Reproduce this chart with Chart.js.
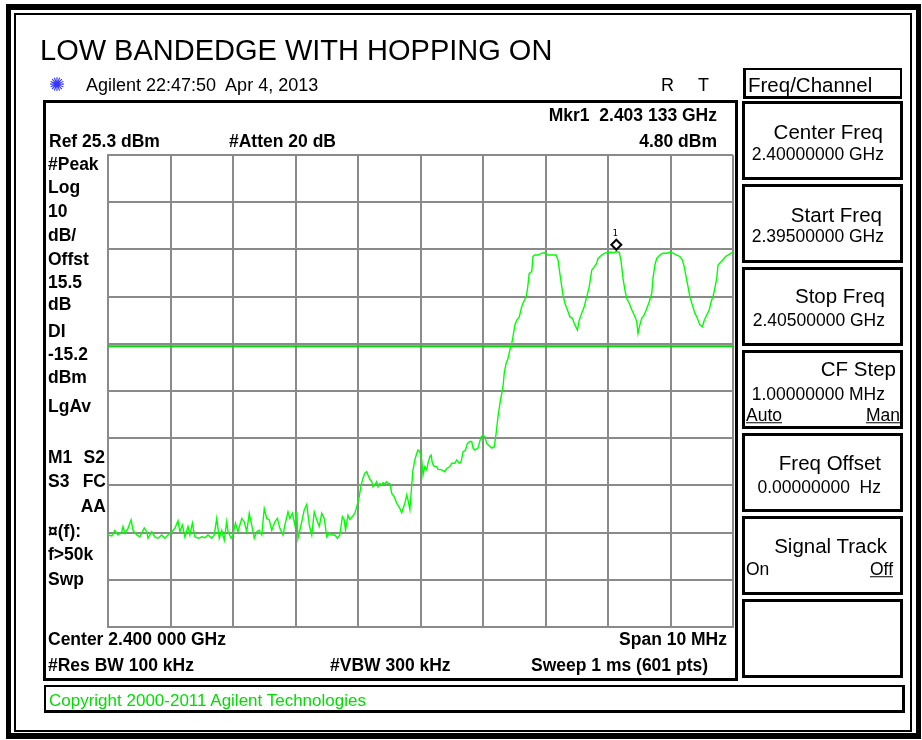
<!DOCTYPE html>
<html>
<head>
<meta charset="utf-8">
<script src="https://cdn.jsdelivr.net/npm/chart.js@4.4.0/dist/chart.umd.min.js"></script>
<style>
  html, body { margin: 0; padding: 0; background: #fff; }
  #page { position: relative; width: 922px; height: 740px; overflow: hidden; font-family: "Liberation Sans", Arial, sans-serif; }
  #page canvas { position: absolute; left: 0; top: 0; }
  .box { position: absolute; box-sizing: border-box; border: 3px solid #000; }
  .t { position: absolute; white-space: pre; line-height: 1; transform: translateY(-50%); color: #000; }
  .title { font-size: 29px; }
  .hdr { font-size: 18px; }
  .logo { font-family: "DejaVu Sans", sans-serif; font-size: 19px; color: #3535ff; }
  .b { font-weight: bold; font-size: 17.5px; }
  .k { font-size: 20.5px; }
  .v { font-size: 17.5px; }
  .u { text-decoration: underline; }
  .copy { font-size: 17px; color: #00dd00; }
</style>
</head>
<body>
<div id="page">
  <canvas id="saChart" width="922" height="740"></canvas>
</div>
<script>
// axis setup
const startFreqMHz = 2395;
const stopFreqMHz = 2405;
const refLevelDbm = 25.3;
const dbPerDiv = 10;
const displayLineDbm = -15.2;
const markerFreqMHz = 2403.133;
const markerLevelDbm = 4.80;

// trace
const traceFreqMHz = [
  2395.00, 2395.06, 2395.11, 2395.16, 2395.22, 2395.24, 2395.27, 2395.32, 2395.37, 2395.40,
  2395.46, 2395.51, 2395.58, 2395.62, 2395.64, 2395.70, 2395.75, 2395.80, 2395.86, 2395.91,
  2395.96, 2396.02, 2396.07, 2396.12, 2396.15, 2396.19, 2396.23, 2396.28, 2396.31, 2396.35,
  2396.39, 2396.45, 2396.50, 2396.55, 2396.60, 2396.66, 2396.70, 2396.74, 2396.78, 2396.82,
  2396.86, 2396.90, 2396.92, 2396.97, 2397.00, 2397.04, 2397.08, 2397.14, 2397.18, 2397.22,
  2397.26, 2397.30, 2397.34, 2397.38, 2397.42, 2397.46, 2397.50, 2397.54, 2397.58, 2397.62,
  2397.67, 2397.71, 2397.75, 2397.80, 2397.83, 2397.88, 2397.91, 2397.95, 2397.99, 2398.02,
  2398.04, 2398.10, 2398.14, 2398.18, 2398.22, 2398.26, 2398.30, 2398.34, 2398.38, 2398.42,
  2398.46, 2398.50, 2398.54, 2398.58, 2398.63, 2398.67, 2398.71, 2398.75, 2398.78, 2398.80,
  2398.84, 2398.87, 2398.91, 2398.95, 2398.98, 2399.02, 2399.05, 2399.08, 2399.11, 2399.14,
  2399.16, 2399.19, 2399.22, 2399.24, 2399.27, 2399.30, 2399.32, 2399.35, 2399.38, 2399.40,
  2399.43, 2399.46, 2399.48, 2399.51, 2399.54, 2399.58, 2399.62, 2399.66, 2399.70, 2399.72,
  2399.75, 2399.78, 2399.80, 2399.83, 2399.86, 2399.88, 2399.91, 2399.94, 2399.96, 2399.99,
  2400.02, 2400.04, 2400.07, 2400.10, 2400.12, 2400.15, 2400.17, 2400.19, 2400.22, 2400.26,
  2400.28, 2400.34, 2400.39, 2400.42, 2400.47, 2400.50, 2400.55, 2400.58, 2400.62, 2400.65,
  2400.68, 2400.72, 2400.75, 2400.79, 2400.82, 2400.84, 2400.87, 2400.92, 2400.94, 2400.97,
  2401.00, 2401.03, 2401.06, 2401.08, 2401.14, 2401.18, 2401.21, 2401.24, 2401.28, 2401.32,
  2401.34, 2401.37, 2401.40, 2401.43, 2401.46, 2401.48, 2401.51, 2401.54, 2401.58, 2401.62,
  2401.64, 2401.69, 2401.71, 2401.74, 2401.78, 2401.80, 2401.83, 2401.88, 2401.94, 2401.99,
  2402.04, 2402.10, 2402.17, 2402.20, 2402.23, 2402.26, 2402.28, 2402.31, 2402.35, 2402.39,
  2402.43, 2402.47, 2402.51, 2402.54, 2402.58, 2402.62, 2402.66, 2402.70, 2402.74, 2402.78,
  2402.82, 2402.84, 2402.90, 2402.95, 2403.00, 2403.06, 2403.08, 2403.13, 2403.18, 2403.21,
  2403.24, 2403.27, 2403.30, 2403.34, 2403.38, 2403.42, 2403.46, 2403.48, 2403.51, 2403.54,
  2403.58, 2403.62, 2403.66, 2403.70, 2403.72, 2403.75, 2403.78, 2403.83, 2403.88, 2403.94,
  2403.99, 2404.04, 2404.10, 2404.15, 2404.19, 2404.22, 2404.25, 2404.28, 2404.31, 2404.35,
  2404.39, 2404.43, 2404.47, 2404.51, 2404.54, 2404.58, 2404.62, 2404.65, 2404.68, 2404.71,
  2404.74, 2404.76, 2404.81, 2404.84, 2404.88, 2404.92, 2404.97, 2405.00
];
const traceLevelDbm = [
  -55.2, -55.4, -54.2, -55.2, -54.5, -53.4, -54.8, -53.8, -52.0, -54.2,
  -55.2, -55.6, -53.7, -54.5, -55.9, -54.5, -55.6, -55.9, -55.2, -55.9,
  -55.2, -54.5, -53.8, -52.2, -54.5, -53.1, -55.6, -53.4, -55.2, -52.7,
  -55.6, -55.9, -55.6, -55.8, -55.2, -55.9, -55.2, -51.7, -55.9, -54.2,
  -56.3, -52.4, -54.5, -55.9, -55.1, -52.7, -54.5, -51.7, -52.4, -54.5,
  -50.6, -53.1, -55.9, -54.5, -54.2, -55.2, -49.6, -51.7, -52.0, -54.2,
  -52.4, -51.7, -53.8, -55.2, -53.1, -50.3, -51.7, -50.6, -53.1, -50.3,
  -55.9, -52.4, -49.9, -48.7, -53.1, -55.2, -50.3, -52.0, -53.4, -50.6,
  -51.7, -55.6, -54.8, -55.2, -55.2, -55.9, -55.2, -51.3, -52.0, -54.2,
  -51.0, -51.9, -51.3, -50.6, -49.2, -47.1, -44.6, -43.2, -42.1, -41.8,
  -42.5, -43.4, -43.9, -45.0, -44.6, -43.9, -45.0, -44.3, -44.6, -44.1,
  -44.4, -43.9, -44.3, -44.3, -46.4, -47.1, -48.5, -49.3, -50.5, -49.6,
  -48.5, -46.7, -47.8, -49.8, -44.6, -41.4, -39.3, -37.9, -37.2, -37.6,
  -39.3, -42.5, -40.7, -41.4, -40.0, -38.6, -38.3, -40.0, -40.7, -40.7,
  -41.3, -41.4, -41.8, -41.1, -40.7, -40.0, -40.0, -39.3, -40.0, -39.7,
  -37.6, -37.2, -35.8, -35.4, -35.4, -36.8, -37.2, -36.8, -35.8, -34.4,
  -34.0, -34.4, -35.8, -36.1, -36.8, -36.5, -33.7, -30.1, -26.6, -23.8,
  -20.9, -18.8, -17.8, -16.0, -14.6, -13.2, -10.7, -9.7, -9.0, -6.8,
  -6.1, -4.7, -3.3, 0.2, 0.6, 3.8, 4.1, 4.1, 4.5, 4.6,
  4.1, 4.1, 4.1, 3.1, 0.2, -2.6, -4.4, -6.1, -7.5, -9.0,
  -9.3, -10.7, -11.8, -9.7, -8.2, -6.8, -4.7, -2.6, 0.9, 1.6,
  2.4, 3.4, 4.1, 4.5, 4.7, 4.7, 4.6, 4.8, 4.7, 2.7,
  -0.8, -3.3, -5.1, -6.1, -7.5, -8.6, -10.0, -12.5, -10.7, -9.3,
  -8.6, -7.2, -5.8, -4.0, -0.8, 2.0, 3.4, 4.1, 4.5, 4.5,
  4.7, 4.5, 4.1, 3.8, 3.1, 1.6, -0.5, -2.6, -4.7, -6.5,
  -8.2, -9.3, -10.7, -11.1, -9.7, -8.6, -7.5, -5.8, -4.7, -2.9,
  -0.8, 2.0, 2.7, 3.1, 3.8, 4.1, 4.5, 4.7
];

const page = document.getElementById('page');

// boxes of the analyzer screen
const boxes = [
  // left, top, width, height, border
  [6, 4, 915, 735, '6px 5px 6px 5px'],
  [14, 13, 898, 719, '2px'],
  [43, 100, 695, 581, '3px'],
  [743, 68, 159, 31, '2px 2px 3px 3px'],
  [742, 101, 161, 79, '3px'],
  [742, 184, 161, 79, '3px'],
  [742, 267, 161, 79, '3px'],
  [742, 350, 161, 79, '3px'],
  [742, 433, 161, 79, '3px'],
  [742, 516, 161, 79, '3px'],
  [742, 599, 161, 79, '3px'],
  [44, 685, 861, 28, '2px 3px 3px 2px']
];
boxes.forEach(([l, t, w, h, bw]) => {
  const d = document.createElement('div');
  d.className = 'box';
  d.style.left = l + 'px';
  d.style.top = t + 'px';
  d.style.width = w + 'px';
  d.style.height = h + 'px';
  d.style.borderWidth = bw;
  page.appendChild(d);
});

// screen texts: text, x, centre y, class, align
const texts = [
  ['LOW BANDEDGE WITH HOPPING ON', 40, 50, 'title', 'l'],
  ['\u273A', 49, 84, 'logo', 'l'],
  ['Agilent 22:47:50  Apr 4, 2013', 86, 85, 'hdr', 'l'],
  ['R', 661, 85, 'hdr', 'l'],
  ['T', 698, 85, 'hdr', 'l'],
  ['Freq/Channel', 748, 85, 'k', 'l'],
  ['Mkr1  2.403 133 GHz', 717, 116, 'b', 'r'],
  ['Ref 25.3 dBm', 49, 142, 'b', 'l'],
  ['#Atten 20 dB', 229, 142, 'b', 'l'],
  ['4.80 dBm', 717, 142, 'b', 'r'],
  ['#Peak', 48, 165, 'b', 'l'],
  ['Log', 48, 188, 'b', 'l'],
  ['10', 48, 212, 'b', 'l'],
  ['dB/', 48, 236, 'b', 'l'],
  ['Offst', 48, 260, 'b', 'l'],
  ['15.5', 48, 283, 'b', 'l'],
  ['dB', 48, 305, 'b', 'l'],
  ['DI', 48, 332, 'b', 'l'],
  ['-15.2', 48, 355, 'b', 'l'],
  ['dBm', 48, 378, 'b', 'l'],
  ['LgAv', 48, 407, 'b', 'l'],
  ['M1', 48, 458, 'b', 'l'],
  ['S2', 105, 458, 'b', 'r'],
  ['S3', 48, 482, 'b', 'l'],
  ['FC', 106, 482, 'b', 'r'],
  ['AA', 106, 507, 'b', 'r'],
  ['\u00A4(f):', 48, 532, 'b', 'l'],
  ['f>50k', 48, 555, 'b', 'l'],
  ['Swp', 48, 580, 'b', 'l'],
  ['Center 2.400 000 GHz', 48, 640, 'b', 'l'],
  ['Span 10 MHz', 727, 640, 'b', 'r'],
  ['#Res BW 100 kHz', 48, 666, 'b', 'l'],
  ['#VBW 300 kHz', 330, 666, 'b', 'l'],
  ['Sweep 1 ms (601 pts)', 531, 666, 'b', 'l'],
  ['Center Freq', 883, 132, 'k', 'r'],
  ['2.40000000 GHz', 884, 155, 'v', 'r'],
  ['Start Freq', 882, 215, 'k', 'r'],
  ['2.39500000 GHz', 884, 237, 'v', 'r'],
  ['Stop Freq', 885, 296, 'k', 'r'],
  ['2.40500000 GHz', 885, 321, 'v', 'r'],
  ['CF Step', 896, 369, 'k', 'r'],
  ['1.00000000 MHz', 885, 395, 'v', 'r'],
  ['Auto', 746, 416, 'v u', 'l'],
  ['Man', 900, 416, 'v u', 'r'],
  ['Freq Offset', 881, 463, 'k', 'r'],
  ['0.00000000  Hz', 881, 488, 'v', 'r'],
  ['Signal Track', 887, 546, 'k', 'r'],
  ['On', 746, 570, 'v', 'l'],
  ['Off', 893, 570, 'v u', 'r'],
  ['Copyright 2000-2011 Agilent Technologies', 49, 700, 'copy', 'l']
];
texts.forEach(([s, x, y, cls, align]) => {
  const d = document.createElement('div');
  d.className = 't ' + cls;
  d.textContent = s;
  d.style.top = y + 'px';
  if (align === 'r') d.style.right = (922 - x) + 'px';
  else d.style.left = x + 'px';
  page.appendChild(d);
});

// marker diamond sits just above the trace point
const markerPlugin = {
  id: 'mkr1',
  afterDatasetsDraw(chart) {
    const { ctx, scales: { x, y } } = chart;
    const px = x.getPixelForValue(markerFreqMHz);
    const py = y.getPixelForValue(markerLevelDbm) - 7;
    ctx.save();
    ctx.beginPath();
    ctx.moveTo(px, py - 5);
    ctx.lineTo(px + 5, py);
    ctx.lineTo(px, py + 5);
    ctx.lineTo(px - 5, py);
    ctx.closePath();
    ctx.fillStyle = '#fff';
    ctx.fill();
    ctx.lineWidth = 2;
    ctx.strokeStyle = '#000';
    ctx.stroke();
    ctx.font = '9px "DejaVu Sans Mono", monospace';
    ctx.fillStyle = '#000';
    ctx.textAlign = 'center';
    ctx.fillText('1', px - 1, py - 9);
    ctx.restore();
  }
};

const gridColor = '#8a8a8a';
const ctx = document.getElementById('saChart').getContext('2d');
const saChart = new Chart(ctx, {
  type: 'scatter',
  data: {
    datasets: [
      {
        label: 'Trace 1',
        data: traceFreqMHz.map((f, i) => ({ x: f, y: traceLevelDbm[i] })),
        showLine: true,
        borderColor: '#00ff00',
        borderWidth: 1.4,
        pointRadius: 0,
        tension: 0
      },
      {
        label: 'Display line',
        data: [{ x: startFreqMHz, y: displayLineDbm }, { x: stopFreqMHz, y: displayLineDbm }],
        showLine: true,
        borderColor: '#00dd00',
        borderWidth: 2,
        pointRadius: 0
      }
    ]
  },
  options: {
    responsive: false,
    animation: false,
    layout: { padding: { left: 108, top: 155, right: 189, bottom: 113 } },
    plugins: {
      legend: { display: false },
      tooltip: { enabled: false }
    },
    scales: {
      x: {
        type: 'linear',
        min: startFreqMHz,
        max: stopFreqMHz,
        ticks: { display: false, stepSize: (stopFreqMHz - startFreqMHz) / 10 },
        grid: { color: gridColor, lineWidth: 2, drawTicks: false },
        border: { color: gridColor, width: 2 },
        afterFit: (s) => { s.height = 0; }
      },
      y: {
        min: refLevelDbm - 10 * dbPerDiv,
        max: refLevelDbm,
        ticks: { display: false, stepSize: dbPerDiv },
        grid: { color: gridColor, lineWidth: 2, drawTicks: false },
        border: { color: gridColor, width: 2 },
        afterFit: (s) => { s.width = 0; }
      }
    }
  },
  plugins: [markerPlugin]
});
</script>
</body>
</html>
